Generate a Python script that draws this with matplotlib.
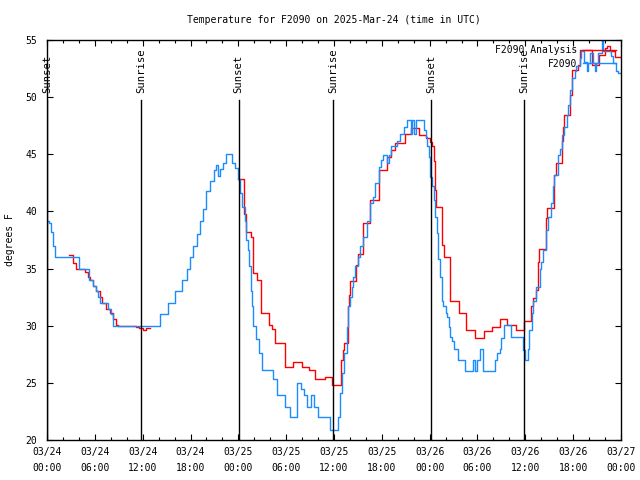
import numpy as np
import matplotlib
matplotlib.use('Agg')
from matplotlib import pyplot as plt
from matplotlib.ticker import MultipleLocator
import matplotlib.transforms as mtransforms

# (hours since 03/24 00:00 UTC, degrees F), drawn as steps
obs = [(0.0, 39.2), (0.3, 39.0), (0.5, 38.2), (0.8, 37.0), (1.0, 36.0), (4.0, 35.0),
       (5.3, 34.0), (5.8, 33.5), (6.1, 33.0), (6.4, 32.5), (6.6, 32.0), (7.7, 31.5),
       (8.0, 31.0), (8.3, 30.0), (14.2, 31.0), (15.2, 32.0), (16.1, 33.0), (16.9, 34.0),
       (17.5, 35.0), (17.9, 36.0), (18.3, 37.0), (18.8, 38.0), (19.2, 39.2), (19.6, 40.2),
       (20.0, 41.8), (20.5, 42.7), (20.9, 43.6), (21.2, 44.1), (21.4, 43.1), (21.7, 43.7),
       (22.1, 44.2), (22.4, 45.0), (23.2, 44.2), (23.6, 43.8), (24.0, 42.8), (24.2, 41.6),
       (24.5, 40.4), (24.8, 39.2), (25.0, 37.5), (25.2, 36.6), (25.4, 35.2), (25.6, 33.0),
       (25.7, 31.7), (25.9, 30.0), (26.2, 28.8), (26.6, 27.6), (27.0, 26.1), (28.4, 25.3),
       (28.8, 23.9), (29.9, 22.9), (30.5, 22.0), (31.3, 25.0), (31.9, 24.5), (32.2, 23.9),
       (32.6, 22.9), (33.1, 23.9), (33.5, 22.9), (34.0, 22.0), (35.5, 20.9), (36.5, 22.0),
       (36.8, 24.1), (37.0, 25.9), (37.3, 27.6), (37.6, 29.9), (37.8, 31.7), (38.0, 32.5),
       (38.2, 33.4), (38.4, 34.3), (38.6, 35.2), (39.0, 36.0), (39.3, 37.0), (39.7, 37.8),
       (40.1, 39.2), (40.5, 40.7), (40.9, 41.3), (41.2, 42.5), (41.6, 43.9), (41.9, 44.5),
       (42.2, 44.9), (42.6, 44.2), (42.9, 44.9), (43.2, 45.7), (43.9, 46.2), (44.3, 46.8),
       (44.8, 47.4), (45.1, 48.0), (45.6, 46.8), (45.8, 48.0), (46.0, 46.8), (46.3, 48.0),
       (47.3, 47.1), (47.5, 46.5), (47.7, 45.7), (47.9, 44.8), (48.1, 43.0), (48.3, 42.2),
       (48.5, 41.0), (48.7, 39.5), (48.9, 38.1), (49.1, 35.8), (49.3, 34.3), (49.5, 32.2),
       (49.7, 31.7), (50.0, 31.1), (50.2, 30.8), (50.4, 29.9), (50.6, 29.0), (50.8, 28.7),
       (51.0, 28.0), (51.5, 27.0), (52.4, 26.0), (53.4, 27.0), (53.7, 26.0), (54.0, 27.0),
       (54.3, 28.0), (54.7, 26.0), (56.2, 27.0), (56.5, 27.6), (56.8, 28.0), (57.0, 28.9),
       (57.3, 30.1), (58.2, 29.0), (59.7, 27.9), (59.9, 27.0), (60.3, 28.0), (60.5, 29.6),
       (60.8, 31.1), (61.0, 32.2), (61.3, 33.4), (61.8, 35.0), (62.0, 35.6), (62.2, 36.6),
       (62.6, 38.4), (62.9, 39.5), (63.2, 40.7), (63.5, 42.2), (63.6, 43.2), (64.1, 44.9),
       (64.3, 45.5), (64.6, 46.7), (64.9, 47.4), (65.2, 48.4), (65.4, 49.3), (65.6, 50.6),
       (65.8, 50.9), (65.9, 51.7), (66.2, 52.3), (66.4, 52.7), (66.8, 53.4), (67.0, 54.0),
       (67.4, 53.1), (67.7, 52.3), (67.9, 53.0), (68.1, 53.9), (68.5, 53.0), (68.7, 52.3),
       (68.9, 53.0), (69.1, 53.9), (69.6, 55.0), (69.7, 54.0), (70.8, 53.6), (71.0, 53.0),
       (71.4, 52.3), (71.6, 52.1), (72.0, 52.1)]

ana = [(2.8, 36.2), (3.3, 35.5), (3.7, 35.0), (4.8, 34.7), (5.1, 34.3), (5.4, 34.0),
       (5.8, 33.5), (6.2, 33.0), (6.6, 32.5), (6.9, 32.0), (7.4, 31.5), (7.9, 31.1),
       (8.3, 30.6), (8.7, 30.1), (8.9, 30.0), (11.2, 29.9), (11.5, 29.8), (12.1, 29.6),
       (12.4, 29.8), (12.9, np.nan),
       (24.0, 42.8), (24.7, 39.8), (24.9, 38.2), (25.6, 37.8), (25.8, 34.6), (26.3, 34.0),
       (26.8, 31.1), (27.9, 30.1), (28.2, 29.7), (28.6, 28.5), (29.9, 26.4), (30.9, 26.8),
       (32.0, 26.4), (32.9, 26.1), (33.6, 25.3), (34.9, 25.5), (35.8, 24.8), (36.9, 27.0),
       (37.1, 27.9), (37.3, 28.5), (37.8, 31.7), (37.9, 32.7), (38.0, 33.9), (38.8, 35.3),
       (39.0, 36.3), (39.7, 39.0), (40.5, 41.0), (41.6, 43.6), (42.7, 44.8), (43.2, 45.4),
       (43.7, 46.0), (44.9, 46.8), (45.6, 47.3), (46.7, 46.7), (47.6, 46.4), (48.0, 46.1),
       (48.3, 45.7), (48.5, 44.4), (48.7, 41.9), (48.8, 40.4), (49.6, 37.1), (49.8, 36.0),
       (50.6, 32.2), (51.7, 31.1), (52.6, 29.6), (53.7, 28.9), (54.8, 29.5), (55.8, 29.9),
       (56.8, 30.6), (57.7, 30.1), (58.8, 29.6), (59.8, 30.4), (60.7, 31.7), (61.0, 32.4),
       (61.4, 33.1), (61.6, 35.6), (61.7, 36.7), (62.6, 39.4), (62.7, 40.3), (63.6, 43.2),
       (63.9, 44.2), (64.6, 46.2), (64.7, 47.4), (64.8, 48.4), (65.6, 50.2), (65.8, 52.4),
       (66.6, 52.8), (66.9, 54.1), (68.3, 52.8), (69.2, 53.7), (70.0, 54.3), (70.3, 54.5),
       (70.6, 54.0), (71.3, 53.5), (72.0, 53.5)]

sun_labels = ['Sunset', 'Sunrise', 'Sunset', 'Sunrise', 'Sunset', 'Sunrise']
sun_hours = [0.0, 11.8, 24.05, 35.85, 48.15, 59.85]

tick_labels = ['03/24\n00:00', '03/24\n06:00', '03/24\n12:00', '03/24\n18:00',
               '03/25\n00:00', '03/25\n06:00', '03/25\n12:00', '03/25\n18:00',
               '03/26\n00:00', '03/26\n06:00', '03/26\n12:00', '03/26\n18:00',
               '03/27\n00:00']

obs_hours, obs_temps = zip(*obs)
ana_hours, ana_temps = zip(*ana)

plt.rcParams['font.family'] = ['DejaVu Sans Mono']
plt.rcParams['font.size'] = 7

fig = plt.figure(figsize=(6.4, 4.8), dpi=100)
ax = fig.add_axes([47/640, 40/480, 574/640, 400/480])

ax.plot(ana_hours, ana_temps, drawstyle='steps-post', color='#ff0000', lw=1,
        label='F2090 Analysis')
ax.plot(obs_hours, obs_temps, drawstyle='steps-post', color='#1a8cff', lw=1,
        label='F2090')

trans = mtransforms.blended_transform_factory(ax.transData, ax.transAxes)
for lab, h in zip(sun_labels, sun_hours):
    ax.plot([h, h], [0, 0.85], transform=trans, color='black', lw=1)
    ax.text(h, 0.8675, lab, transform=trans, rotation=90, ha='center', va='bottom',
            fontsize=7.6)

ax.set_xlim(0, 72)
ax.set_ylim(20, 55)
ax.set_xticks(np.arange(0, 73, 6))
ax.set_xticklabels(tick_labels, linespacing=1.7)
ax.xaxis.set_minor_locator(MultipleLocator(2))
ax.set_yticks(np.arange(20, 56, 5))
ax.tick_params(axis='both', which='major', direction='in', top=True, right=True,
               length=4.5, width=0.8, color='black')
ax.tick_params(axis='x', which='minor', direction='in', top=True, length=2.5, width=0.8)
ax.tick_params(axis='x', pad=5)
ax.tick_params(axis='y', pad=7)
for s in ax.spines.values():
    s.set_linewidth(1)

ax.set_title('Temperature for F2090 on 2025-Mar-24 (time in UTC)', fontsize=7, pad=12)
fig.text(10/640, 0.5, 'degrees F', rotation=90, ha='center', va='center')

ax.legend(loc='upper right', markerfirst=False, frameon=False, handlelength=3.4,
          handletextpad=0.5, borderaxespad=0.45, borderpad=0.1, labelspacing=0.35)

fig.savefig('out.png', dpi=100)
